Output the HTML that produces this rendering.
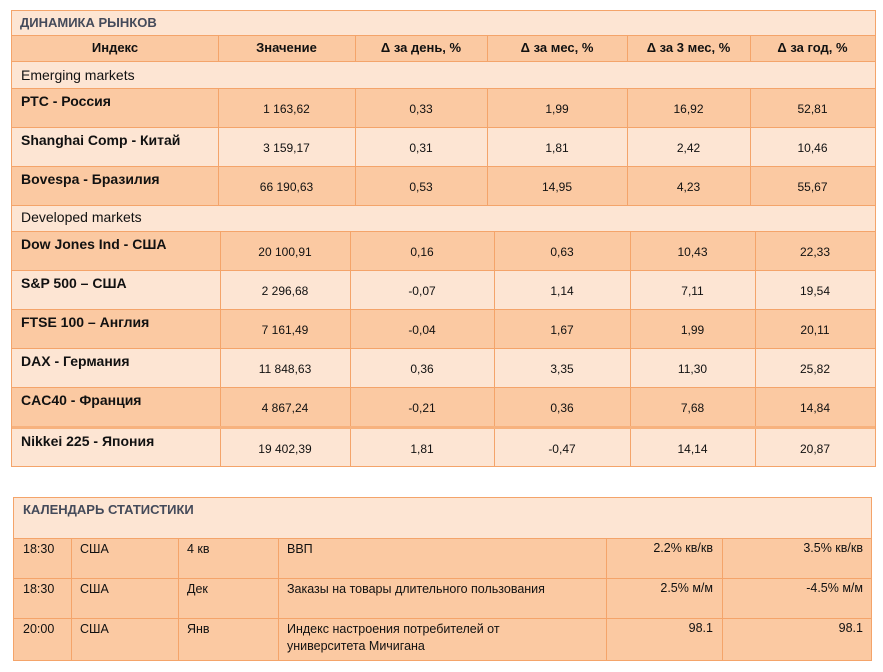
<!DOCTYPE html>
<html><head><meta charset="utf-8"><style>
body{margin:0;width:883px;height:672px;background:#fff;font-family:"Liberation Sans",sans-serif;position:relative;overflow:hidden}
.r{position:absolute;box-sizing:border-box}
.l{background:#fde5d3}.d{background:#fbc9a2}
.c{position:absolute;top:0;bottom:0;border-left:1px solid #f4a46a}
.t{position:absolute;white-space:nowrap;color:#111}
.b{font-weight:bold}
</style></head><body>
<div class="r" style="left:11px;top:10px;width:865px;height:457px;border:1px solid #f4a46a"></div>
<div class="r l" style="left:12px;top:11px;width:863px;height:24px"><span class="t b" style="left:8px;top:4px;font-size:13px;color:#444a5a">ДИНАМИКА РЫНКОВ</span></div>
<div class="r d" style="left:12px;top:35px;width:863px;height:26px;border-top:1px solid #f4a46a">
 <div class="c" style="left:206px"></div><div class="c" style="left:343px"></div><div class="c" style="left:475px"></div><div class="c" style="left:615px"></div><div class="c" style="left:738px"></div>
 <span class="t b" style="left:0;width:206px;text-align:center;top:4px;font-size:13px">Индекс</span>
 <span class="t b" style="left:206px;width:137px;text-align:center;top:4px;font-size:13px">Значение</span>
 <span class="t b" style="left:343px;width:132px;text-align:center;top:4px;font-size:13px">Δ за день, %</span>
 <span class="t b" style="left:475px;width:140px;text-align:center;top:4px;font-size:13px">Δ за мес, %</span>
 <span class="t b" style="left:615px;width:123px;text-align:center;top:4px;font-size:13px">Δ за 3 мес, %</span>
 <span class="t b" style="left:738px;width:125px;text-align:center;top:4px;font-size:13px">Δ за год, %</span>
</div>
<div class="r l" style="left:12px;top:61px;width:863px;height:27px;border-top:1px solid #f4a46a"><span class="t" style="left:9px;top:5px;font-size:14px">Emerging markets</span></div>
<div id="u"></div>
<div class="r l" style="left:12px;top:205px;width:863px;height:26px;border-top:1px solid #f4a46a"><span class="t" style="left:9px;top:3px;font-size:14px">Developed markets</span></div>
<div class="r" style="left:13px;top:497px;width:859px;height:164px;border:1px solid #f4a46a"></div>
<div class="r l" style="left:14px;top:498px;width:857px;height:40px"><span class="t b" style="left:9px;top:4px;font-size:13px;color:#444a5a">КАЛЕНДАРЬ СТАТИСТИКИ</span></div>
<script>
function row(top,h,cls,cols,cells,last){
 var s='<div class="r '+cls+'" style="left:'+cols[0]+'px;top:'+top+'px;width:'+(cols[cols.length-1]-cols[0])+'px;height:'+h+'px;border-top:'+(last?'3px solid #f7b27e':'1px solid #f4a46a')+'">';
 for(var i=1;i<cols.length-1;i++)s+='<div class="c" style="left:'+(cols[i]-cols[0])+'px"></div>';
 s+=cells+'</div>';return s;}
var up=[12,218,355,487,627,750,875], lo=[12,220,350,494,630,755,875];
var data=[
[88,39,'d',up,'РТС - Россия',['1 163,62','0,33','1,99','16,92','52,81']],
[127,39,'l',up,'Shanghai Comp - Китай',['3 159,17','0,31','1,81','2,42','10,46']],
[166,39,'d',up,'Bovespa - Бразилия',['66 190,63','0,53','14,95','4,23','55,67']],
[231,39,'d',lo,'Dow Jones Ind - США',['20 100,91','0,16','0,63','10,43','22,33']],
[270,39,'l',lo,'S&amp;P 500 – США',['2 296,68','-0,07','1,14','7,11','19,54']],
[309,39,'d',lo,'FTSE 100 – Англия',['7 161,49','-0,04','1,67','1,99','20,11']],
[348,39,'l',lo,'DAX - Германия',['11 848,63','0,36','3,35','11,30','25,82']],
[387,39,'d',lo,'CAC40 - Франция',['4 867,24','-0,21','0,36','7,68','14,84']],
[426,40,'l',lo,'Nikkei 225 - Япония',['19 402,39','1,81','-0,47','14,14','20,87'],1]];
var h='';
data.forEach(function(d){var c=d[3];var cells='<span class="t b" style="left:9px;top:4px;font-size:14px">'+d[4]+'</span>';
 for(var i=0;i<5;i++)cells+='<span class="t" style="left:'+(c[i+1]-c[0])+'px;width:'+(c[i+2]-c[i+1])+'px;text-align:center;top:13px;font-size:12px">'+d[5][i]+'</span>';
 h+=row(d[0],d[1],d[2],c,cells,d[6]);});
var cc=[14,71,178,278,606,722,871];
var cal=[[538,'18:30','США','4 кв','ВВП','2.2% кв/кв','3.5% кв/кв'],
[578,'18:30','США','Дек','Заказы на товары длительного пользования','2.5% м/м','-4.5% м/м'],
[618,'20:00','США','Янв','Индекс настроения потребителей  от<br>университета  Мичигана','98.1','98.1']];
cal.forEach(function(r){var cells='';
 for(var i=0;i<4;i++)cells+='<span class="t" style="left:'+(cc[i]-cc[0]+9)+'px;top:2px;font-size:12.5px;line-height:17px">'+r[i+1]+'</span>';
 cells+='<span class="t" style="left:'+(cc[4]-cc[0])+'px;width:'+(cc[5]-cc[4]-9)+'px;text-align:right;top:2px;font-size:12.5px">'+r[5]+'</span>';
 cells+='<span class="t" style="left:'+(cc[5]-cc[0])+'px;width:'+(cc[6]-cc[5]-8)+'px;text-align:right;top:2px;font-size:12.5px">'+r[6]+'</span>';
 h+=row(r[0],r[0]==618?42:40,'d',cc,cells,false);});
document.getElementById('u').outerHTML=h;
</script>
</body></html>
